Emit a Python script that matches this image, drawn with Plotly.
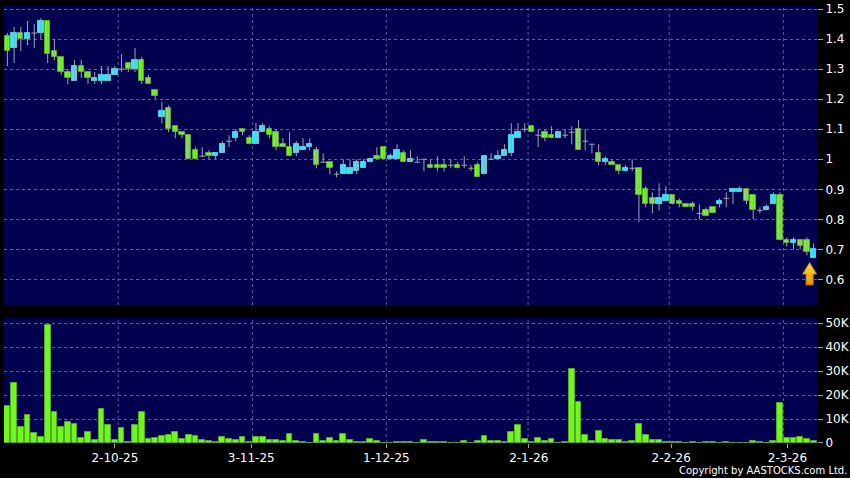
import plotly.graph_objects as go

# ---------------- data ----------------
open_ = [1.41, 1.37, 1.42, 1.40, 1.42, 1.42, 1.46, 1.36, 1.34, 1.29,
         1.26, 1.31, 1.29, 1.26, 1.26, 1.26, 1.28, 1.30, 1.32, 1.30,
         1.33, 1.27, 1.23, 1.14, 1.17, 1.11, 1.09, 1.08, 1.03, 1.01,
         1.02, 1.01, 1.02, 1.06, 1.07, 1.10, 1.07, 1.05, 1.09, 1.10,
         1.09, 1.05, 1.04, 1.02, 1.03, 1.04, 1.03, 0.99, 0.99, 0.95,
         0.95, 0.95, 0.96, 0.97, 0.99, 1.01, 1.04, 1.00, 1.00, 1.02,
         0.99, 0.99, 1.00, 0.98, 0.98, 0.98, 0.98, 0.98, 0.98, 0.97,
         0.98, 0.95, 1.00, 1.00, 1.01, 1.02, 1.07, 1.10, 1.11, 1.08,
         1.09, 1.08, 1.07, 1.08, 1.09, 1.10, 1.06, 1.05, 1.02, 0.99,
         0.99, 0.98, 0.96, 0.97, 0.97, 0.90, 0.87, 0.85, 0.86, 0.88,
         0.86, 0.85, 0.85, 0.82, 0.83, 0.84, 0.85, 0.87, 0.89, 0.89,
         0.90, 0.88, 0.83, 0.83, 0.85, 0.88, 0.73, 0.72, 0.73, 0.73,
         0.67]
high = [1.42, 1.44, 1.44, 1.46, 1.45, 1.47, 1.46, 1.40, 1.34, 1.30,
        1.33, 1.33, 1.29, 1.29, 1.31, 1.31, 1.31, 1.35, 1.32, 1.37,
        1.34, 1.28, 1.23, 1.19, 1.18, 1.11, 1.09, 1.08, 1.04, 1.04,
        1.03, 1.02, 1.06, 1.08, 1.10, 1.10, 1.08, 1.12, 1.12, 1.11,
        1.10, 1.07, 1.09, 1.06, 1.07, 1.07, 1.04, 1.02, 0.99, 0.96,
        1.00, 1.00, 1.00, 1.00, 1.00, 1.04, 1.04, 1.02, 1.05, 1.03,
        1.03, 1.01, 1.00, 1.00, 1.01, 1.00, 1.00, 0.99, 1.01, 0.98,
        0.99, 1.01, 1.02, 1.03, 1.05, 1.12, 1.12, 1.12, 1.11, 1.10,
        1.10, 1.11, 1.09, 1.10, 1.11, 1.13, 1.10, 1.05, 1.05, 1.01,
        1.00, 0.98, 0.98, 1.00, 0.97, 0.91, 0.89, 0.92, 0.91, 0.88,
        0.87, 0.85, 0.86, 0.85, 0.84, 0.84, 0.87, 0.89, 0.90, 0.91,
        0.90, 0.88, 0.84, 0.85, 0.89, 0.89, 0.74, 0.74, 0.73, 0.74,
        0.72]
low = [1.31, 1.32, 1.36, 1.38, 1.37, 1.40, 1.32, 1.33, 1.28, 1.25,
       1.26, 1.27, 1.25, 1.25, 1.25, 1.26, 1.28, 1.29, 1.29, 1.29,
       1.25, 1.25, 1.20, 1.12, 1.09, 1.07, 1.07, 1.00, 1.00, 1.01,
       1.00, 1.00, 1.02, 1.04, 1.06, 1.08, 1.05, 1.05, 1.09, 1.07,
       1.03, 1.04, 1.01, 1.01, 1.03, 1.03, 0.97, 0.99, 0.95, 0.94,
       0.95, 0.95, 0.95, 0.97, 0.99, 1.00, 1.00, 1.00, 1.00, 0.99,
       0.99, 0.99, 0.96, 0.97, 0.96, 0.96, 0.97, 0.97, 0.97, 0.96,
       0.94, 0.95, 1.00, 1.00, 1.01, 1.01, 1.07, 1.09, 1.09, 1.04,
       1.06, 1.07, 1.07, 1.07, 1.05, 1.03, 1.03, 1.02, 0.98, 0.98,
       0.98, 0.95, 0.96, 0.96, 0.79, 0.84, 0.82, 0.83, 0.86, 0.85,
       0.84, 0.84, 0.83, 0.80, 0.81, 0.82, 0.84, 0.84, 0.85, 0.89,
       0.85, 0.80, 0.82, 0.83, 0.85, 0.73, 0.71, 0.70, 0.70, 0.68,
       0.67]
close = [1.36, 1.42, 1.40, 1.42, 1.42, 1.46, 1.35, 1.34, 1.29, 1.27,
         1.31, 1.29, 1.27, 1.27, 1.28, 1.28, 1.30, 1.30, 1.30, 1.33,
         1.26, 1.25, 1.21, 1.16, 1.10, 1.09, 1.08, 1.00, 1.00, 1.01,
         1.01, 1.02, 1.05, 1.06, 1.09, 1.09, 1.05, 1.09, 1.11, 1.08,
         1.04, 1.04, 1.01, 1.05, 1.04, 1.05, 0.98, 0.99, 0.97, 0.95,
         0.98, 0.97, 0.99, 0.99, 1.00, 1.00, 1.00, 1.01, 1.03, 0.99,
         1.00, 0.99, 1.00, 0.97, 0.97, 0.97, 0.98, 0.97, 0.98, 0.97,
         0.94, 1.01, 1.00, 1.01, 1.03, 1.08, 1.09, 1.10, 1.09, 1.08,
         1.07, 1.07, 1.09, 1.08, 1.09, 1.03, 1.06, 1.05, 0.99, 1.00,
         0.98, 0.96, 0.97, 0.97, 0.88, 0.85, 0.85, 0.87, 0.88, 0.85,
         0.85, 0.84, 0.84, 0.82, 0.81, 0.82, 0.86, 0.87, 0.90, 0.90,
         0.86, 0.83, 0.83, 0.84, 0.88, 0.73, 0.72, 0.73, 0.71, 0.69,
         0.70]
volume_k = [15.6, 24.9, 6.8, 11.8, 4.2, 2.5, 49.0, 13.1, 6.5, 8.75,
            7.8, 1.9, 4.4, 1.25, 14.0, 7.5, 1.25, 6.1, 0.6, 7.5,
            12.8, 1.5, 2.2, 3.1, 3.4, 4.6, 1.8, 3.4, 3.1, 1.3,
            0.9, 0.6, 2.5, 1.8, 1.2, 2.4, 0.6, 2.3, 2.3, 1.3,
            1.3, 1.0, 3.75, 0.9, 0.4, 0.2, 3.75, 1.0, 2.25, 0.7,
            3.9, 1.1, 0.3, 0.3, 1.5, 0.9, 0.2, 0.2, 0.3, 0.3,
            0.3, 0.2, 1.25, 0.4, 0.4, 0.4, 0.2, 0.2, 0.9, 0.2,
            0.9, 3.0, 0.7, 0.9, 0.4, 4.7, 7.5, 1.7, 0.4, 2.1,
            1.0, 1.5, 0.2, 0.4, 30.8, 17.1, 3.4, 0.7, 5.0, 1.7,
            1.2, 1.4, 0.3, 0.7, 7.8, 3.4, 1.4, 1.4, 0.3, 0.3,
            0.3, 0.2, 0.3, 0.2, 0.3, 0.6, 0.2, 0.3, 0.2, 0.1,
            0.1, 0.7, 0.3, 0.1, 0.7, 16.8, 2.1, 2.0, 2.3, 1.8,
            0.9]

date_labels = ["2-10-25", "3-11-25", "1-12-25", "2-1-26", "2-2-26", "2-3-26"]
label_pos = [16.0, 36.3, 56.4, 77.6, 98.8, 116.1]
grid_pos = [16.5, 36.5, 56.4, 77.5, 98.5, 115.5]

price_ticks = [0.6, 0.7, 0.8, 0.9, 1.0, 1.1, 1.2, 1.3, 1.4, 1.5]
price_tick_text = ["0.6", "0.7", "0.8", "0.9", "1", "1.1", "1.2", "1.3", "1.4", "1.5"]
vol_ticks = [0, 10000, 20000, 30000, 40000, 50000]
vol_tick_text = ["0", "10K", "20K", "30K", "40K", "50K"]

# ---------------- styling ----------------
NAVY = "#00004E"
GREEN = "#6EF81C"
GREEN_EDGE = "#55A82A"
CYAN = "#2EEAFF"
CYAN_EDGE = "#4CCFE4"
WICK = "#A4A4B0"
GRID = "#5A5AA8"
FONT = "DejaVu Sans"

N = len(close)
idx = list(range(N))

# wicks
wx, wy = [], []
for i in idx:
    wx += [i, i, None]
    wy += [low[i], high[i], None]

# bodies
b_base, b_h, b_col, b_edge = [], [], [], []
dx, dy = [], []
for i in idx:
    o, c = open_[i], close[i]
    if abs(c - o) < 1e-9:
        b_base.append(None)
        b_h.append(None)
        b_col.append(GREEN)
        b_edge.append(GREEN_EDGE)
        dx += [i - 0.42, i + 0.42, None]
        dy += [o, o, None]
    else:
        b_base.append(min(o, c))
        b_h.append(abs(c - o))
        up = c > o
        b_col.append(CYAN if up else GREEN)
        b_edge.append(CYAN_EDGE if up else GREEN_EDGE)

volume = [v * 1000 for v in volume_k]

fig = go.Figure()
fig.add_trace(go.Scatter(x=wx, y=wy, mode="lines", line=dict(color=WICK, width=1),
                         hoverinfo="skip", xaxis="x", yaxis="y"))
fig.add_trace(go.Scatter(x=dx, y=dy, mode="lines", line=dict(color=WICK, width=1),
                         hoverinfo="skip", xaxis="x", yaxis="y"))
fig.add_trace(go.Bar(x=idx, y=b_h, base=b_base, width=0.8,
                     marker=dict(color=b_col, line=dict(color=b_edge, width=1)),
                     xaxis="x", yaxis="y"))
fig.add_trace(go.Bar(x=idx, y=volume, width=0.86,
                     marker=dict(color=GREEN, line=dict(color=GREEN_EDGE, width=1)),
                     xaxis="x2", yaxis="y2"))

# yellow arrow under the last candle
cx = N - 1 - 0.6
tip = low[-1] - 0.014
ax_ = [cx, cx + 1.03, cx + 0.52, cx + 0.52, cx - 0.52, cx - 0.52, cx - 1.03, cx]
ay_ = [tip, tip - 0.038, tip - 0.038, tip - 0.074, tip - 0.074, tip - 0.038, tip - 0.038, tip]
fig.add_trace(go.Scatter(x=ax_, y=ay_, mode="lines", fill="toself",
                         line=dict(color="#C98A00", width=1),
                         fillgradient=dict(type="vertical",
                                           colorscale=[[0, "#E89400"], [1, "#FFE23A"]]),
                         hoverinfo="skip", xaxis="x", yaxis="y"))

shapes = []
for g in grid_pos:
    for yr in ("y domain", "y2 domain"):
        shapes.append(dict(type="line", xref="x", yref=yr, x0=g, x1=g, y0=0, y1=1,
                           line=dict(color=GRID, width=1, dash="3px,3px"), layer="below"))

axis_font = dict(family=FONT, size=12, color="#FFFFFF")

fig.update_layout(
    width=850, height=478,
    margin=dict(l=4, r=33, t=6, b=35, autoexpand=False),
    paper_bgcolor="#000000", plot_bgcolor=NAVY,
    showlegend=False, bargap=0,
    shapes=shapes,
    xaxis=dict(domain=[0, 1], range=[-0.5, N - 0.5], anchor="y", showgrid=False,
               zeroline=False, showticklabels=False, ticks="", fixedrange=True),
    xaxis2=dict(domain=[0, 1], range=[-0.5, N - 0.5], anchor="y2", matches="x",
                showgrid=False, zeroline=False, tickmode="array",
                tickvals=label_pos, ticktext=date_labels, ticks="outside", ticklen=4,
                tickcolor="#A0A0A0", tickfont=axis_font),
    yaxis=dict(domain=[0.3158, 1], range=[0.515, 1.51], side="right", anchor="x",
               tickmode="array", tickvals=price_ticks, ticktext=price_tick_text,
               ticks="outside", ticklen=5, tickcolor="#A0A0A0", tickfont=axis_font,
               showgrid=True, gridcolor=GRID, griddash="3px,3px", gridwidth=1,
               zeroline=False),
    yaxis2=dict(domain=[0, 0.286], range=[0, 52100], side="right", anchor="x2",
                tickmode="array", tickvals=vol_ticks, ticktext=vol_tick_text,
                ticks="outside", ticklen=5, tickcolor="#A0A0A0", tickfont=axis_font,
                showgrid=True, gridcolor=GRID, griddash="3px,3px", gridwidth=1,
                zeroline=False),
    annotations=[dict(text="Copyright by AASTOCKS.com Ltd.", xref="paper", yref="paper",
                      x=1.0394, y=-0.064, xanchor="right", yanchor="middle",
                      showarrow=False, font=dict(family=FONT, size=10, color="#FFFFFF"))],
)

fig.write_html("out.html", config={"displayModeBar": False},
               post_script="document.body.style.margin='0';document.body.style.overflow='hidden';")
